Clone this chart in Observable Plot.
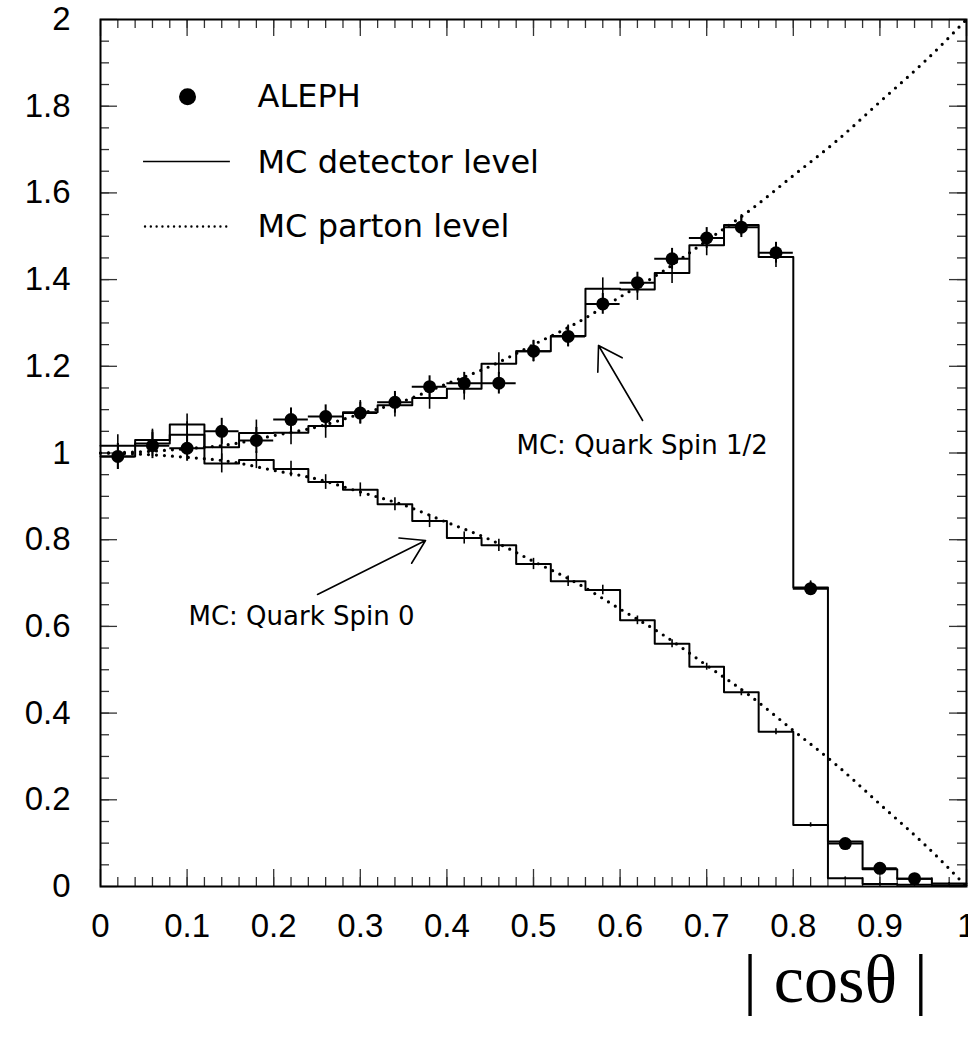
<!DOCTYPE html>
<html>
<head>
<meta charset="utf-8">
<script src="https://cdn.jsdelivr.net/npm/d3@7"></script>
<script src="https://cdn.jsdelivr.net/npm/@observablehq/plot@0.6"></script>
<style>
  html, body { margin: 0; padding: 0; background: #fff; overflow: hidden; }
  #chart svg { display: block; }
</style>
</head>
<body>
<div id="chart"></div>
<script>
// ---- data ----
const binEdges = [0, 0.04, 0.08, 0.12, 0.16, 0.20, 0.24, 0.28, 0.32, 0.36, 0.40, 0.44, 0.48,
  0.52, 0.56, 0.60, 0.64, 0.68, 0.72, 0.76, 0.80, 0.84, 0.88, 0.92, 0.96, 1.00];
const binCenters = [0.02, 0.06, 0.10, 0.14, 0.18, 0.22, 0.26, 0.30, 0.34, 0.38, 0.42, 0.46,
  0.50, 0.54, 0.58, 0.62, 0.66, 0.70, 0.74, 0.78, 0.82, 0.86, 0.90, 0.94, 0.98];

// MC detector level, quark spin 1/2
const spinHalfDetector = [0.992, 1.022, 1.042, 1.013, 1.046, 1.047, 1.062, 1.094, 1.110, 1.127,
  1.148, 1.206, 1.235, 1.270, 1.379, 1.377, 1.415, 1.479, 1.526, 1.452, 0.690, 0.104, 0.040, 0.018, 0.007];
const spinHalfErr = [0.03, 0.03, 0.03, 0.03, 0.03, 0.028, 0.028, 0.027, 0.027, 0.026, 0.026, 0.025,
  0.025, 0.025, 0.025, 0.025, 0.024, 0.024, 0.024, 0.024, 0.015, 0.006, 0.004, 0.003, 0.002];

// MC detector level, quark spin 0
const spinZeroDetector = [1.017, 1.030, 1.066, 0.976, 0.984, 0.963, 0.933, 0.915, 0.882, 0.843,
  0.804, 0.787, 0.744, 0.704, 0.684, 0.614, 0.560, 0.507, 0.448, 0.357, 0.142, 0.019, 0.006, 0.004, 0.003];
const spinZeroErr = [0.025, 0.025, 0.024, 0.022, 0.02, 0.018, 0.017, 0.016, 0.015, 0.015, 0.014, 0.014,
  0.013, 0.012, 0.011, 0.01, 0.009, 0.008, 0.008, 0.007, 0.005, 0.003, 0.002, 0.001, 0.001];

// ALEPH data
const alephX = [0.02, 0.06, 0.10, 0.14, 0.18, 0.22, 0.26, 0.30, 0.34, 0.38, 0.42, 0.46,
  0.50, 0.54, 0.58, 0.62, 0.66, 0.70, 0.74, 0.78, 0.82, 0.86, 0.90, 0.94];
const alephY = [0.992, 1.017, 1.011, 1.050, 1.029, 1.077, 1.084, 1.092, 1.117, 1.153, 1.161, 1.161,
  1.235, 1.269, 1.344, 1.393, 1.448, 1.496, 1.521, 1.462, 0.687, 0.099, 0.042, 0.018];
const alephErr = [0.03, 0.03, 0.03, 0.03, 0.03, 0.027, 0.027, 0.025, 0.025, 0.025, 0.025, 0.025,
  0.024, 0.024, 0.024, 0.024, 0.024, 0.024, 0.024, 0.024, 0.015, 0.008, 0.005, 0.004];

// MC parton level curves
const partonX = [0, 0.05, 0.10, 0.15, 0.20, 0.25, 0.30, 0.35, 0.40, 0.45, 0.50,
  0.55, 0.60, 0.65, 0.70, 0.75, 0.80, 0.85, 0.90, 0.95, 1.00];
const partonHalf = [1.00, 1.003, 1.01, 1.02, 1.04, 1.06, 1.09, 1.12, 1.16, 1.20, 1.25,
  1.30, 1.36, 1.42, 1.49, 1.56, 1.64, 1.72, 1.81, 1.90, 2.00];
const partonZero = [1.00, 0.997, 0.99, 0.98, 0.96, 0.94, 0.91, 0.88, 0.84, 0.80, 0.75,
  0.70, 0.64, 0.58, 0.51, 0.44, 0.36, 0.28, 0.19, 0.10, 0.00];

// ticks
const xTickLabels = [0, 0.1, 0.2, 0.3, 0.4, 0.5, 0.6, 0.7, 0.8, 0.9, 1];
const xMinorTicks = d3.range(0.02, 1, 0.02).map(v => +v.toFixed(2));
const yTickLabels = [0, 0.2, 0.4, 0.6, 0.8, 1, 1.2, 1.4, 1.6, 1.8, 2];
const yMinorTicks = d3.range(0.05, 2, 0.05).map(v => +v.toFixed(2));

// annotations
const annotationText = ["MC: Quark Spin 1/2", "MC: Quark Spin 0"];
const legendText = ["ALEPH", "MC detector level", "MC parton level"];
const axisTitle = "| cosθ |";

// ---- tables built from the arrays ----
const stepTable = vals => binEdges.map((e, i) => ({x: e, y: vals[Math.min(i, vals.length - 1)]}));
const halfSteps = stepTable(spinHalfDetector);
const zeroSteps = stepTable(spinZeroDetector);
const mcErrs = binCenters.map((c, i) => ({x: c, y: spinHalfDetector[i], e: spinHalfErr[i]}))
  .concat(binCenters.map((c, i) => ({x: c, y: spinZeroDetector[i], e: spinZeroErr[i]})));
const aleph = alephX.map((x, i) => ({x, y: alephY[i], e: alephErr[i]}));
const partonHalfPts = partonX.map((x, i) => ({x, y: partonHalf[i]}));
const partonZeroPts = partonX.map((x, i) => ({x, y: partonZero[i]}));

const W = 968, H = 1038, mL = 100, mR = 2, mT = 19, mB = 152;
const pw = W - mL - mR, ph = H - mT - mB;
const minorLen = 9, majorLen = 17;
const tickStroke = "#333";
const sans = "DejaVu Sans";
const tickFont = "'Liberation Sans', Arial, Helvetica, sans-serif";
const fmt = d => String(d);

const arrows = [
  {x1: 0.626, y1: 1.075, x2: 0.5751, y2: 1.248},
  {x1: 0.2506, y1: 0.6736, x2: 0.3753, y2: 0.7982}
];
const annotations = [
  {x: 0.4804, y: 1.017, t: annotationText[0]},
  {x: 0.1016, y: 0.623, t: annotationText[1]}
];

const chart = Plot.plot({
  width: W, height: H,
  marginLeft: mL, marginRight: mR, marginTop: mT, marginBottom: mB,
  x: {domain: [0, 1], label: null},
  y: {domain: [0, 2], label: null},
  style: {fontFamily: tickFont, background: "#fff", color: "#000", overflow: "visible"},
  marks: [
    // inward ticks on all four sides
    Plot.ruleX(xMinorTicks, {x: d => d, insetTop: ph - minorLen, stroke: tickStroke, strokeWidth: 1.3}),
    Plot.ruleX(xMinorTicks, {x: d => d, insetBottom: ph - minorLen, stroke: tickStroke, strokeWidth: 1.3}),
    Plot.ruleX(xTickLabels, {x: d => d, insetTop: ph - majorLen, stroke: tickStroke, strokeWidth: 1.3}),
    Plot.ruleX(xTickLabels, {x: d => d, insetBottom: ph - majorLen, stroke: tickStroke, strokeWidth: 1.3}),
    Plot.ruleY(yMinorTicks, {y: d => d, insetRight: pw - minorLen, stroke: tickStroke, strokeWidth: 1.3}),
    Plot.ruleY(yMinorTicks, {y: d => d, insetLeft: pw - minorLen, stroke: tickStroke, strokeWidth: 1.3}),
    Plot.ruleY(yTickLabels, {y: d => d, insetRight: pw - majorLen, stroke: tickStroke, strokeWidth: 1.3}),
    Plot.ruleY(yTickLabels, {y: d => d, insetLeft: pw - majorLen, stroke: tickStroke, strokeWidth: 1.3}),

    Plot.axisX({ticks: xTickLabels, tickFormat: fmt, tickSize: 0, tickPadding: 27, fontSize: 33,
      fontFamily: tickFont, label: null}),
    Plot.axisY({ticks: yTickLabels, tickFormat: fmt, tickSize: 0, tickPadding: 30, fontSize: 33,
      fontFamily: tickFont, label: null}),

    // parton-level dotted curves
    Plot.line(partonHalfPts, {x: "x", y: "y", curve: "natural", stroke: "#000", strokeWidth: 3.2,
      strokeDasharray: "0 8", strokeLinecap: "round"}),
    Plot.line(partonZeroPts, {x: "x", y: "y", curve: "natural", stroke: "#000", strokeWidth: 3.2,
      strokeDasharray: "0 8", strokeLinecap: "round"}),

    // detector-level histograms
    Plot.line(halfSteps, {x: "x", y: "y", curve: "step-after", stroke: "#000", strokeWidth: 2}),
    Plot.line(zeroSteps, {x: "x", y: "y", curve: "step-after", stroke: "#000", strokeWidth: 2}),
    Plot.ruleX(mcErrs, {x: "x", y1: d => d.y - d.e, y2: d => d.y + d.e, stroke: "#000", strokeWidth: 1.6}),

    // ALEPH data
    Plot.ruleY(aleph, {y: "y", x1: d => d.x - 0.02, x2: d => d.x + 0.02, stroke: "#000", strokeWidth: 2}),
    Plot.ruleX(aleph, {x: "x", y1: d => d.y - d.e, y2: d => d.y + d.e, stroke: "#000", strokeWidth: 2}),
    Plot.dot(aleph, {x: "x", y: "y", r: 6.5, fill: "#000", stroke: null}),

    // annotations
    Plot.arrow(arrows, {x1: "x1", y1: "y1", x2: "x2", y2: "y2", stroke: "#000", strokeWidth: 1.6,
      headLength: 25, headAngle: 64}),
    Plot.text(annotations, {x: "x", y: "y", text: "t", textAnchor: "start", fontFamily: sans, fontSize: 26, fill: "#000"}),

    // legend
    Plot.dot([legendText[0]], {x: () => 0.1005, y: () => 1.822, r: 8.5, fill: "#000", stroke: null}),
    Plot.ruleY([legendText[1]], {y: () => 1.6724, x1: () => 0.0497, x2: () => 0.150, stroke: "#000", strokeWidth: 1.6}),
    Plot.ruleY([legendText[2]], {y: () => 1.5225, x1: () => 0.052, x2: () => 0.147, stroke: "#000", strokeWidth: 2.4,
      strokeDasharray: "0 5.8", strokeLinecap: "round"}),
    Plot.text(legendText, {x: () => 0.1813, y: (d, i) => [1.822, 1.669, 1.5213][i], text: d => d,
      textAnchor: "start", fontFamily: sans, fontSize: 32, fill: "#000"}),

    // axis title
    Plot.text([axisTitle], {frameAnchor: "bottom-left", dx: 642.7, dy: 115, text: d => d, textAnchor: "start",
      fontFamily: "'Liberation Serif', 'Times New Roman', serif", fontSize: 68, fill: "#000"}),

    Plot.frame({stroke: "#000", strokeWidth: 2})
  ]
});
document.getElementById("chart").appendChild(chart);
</script>
</body>
</html>
